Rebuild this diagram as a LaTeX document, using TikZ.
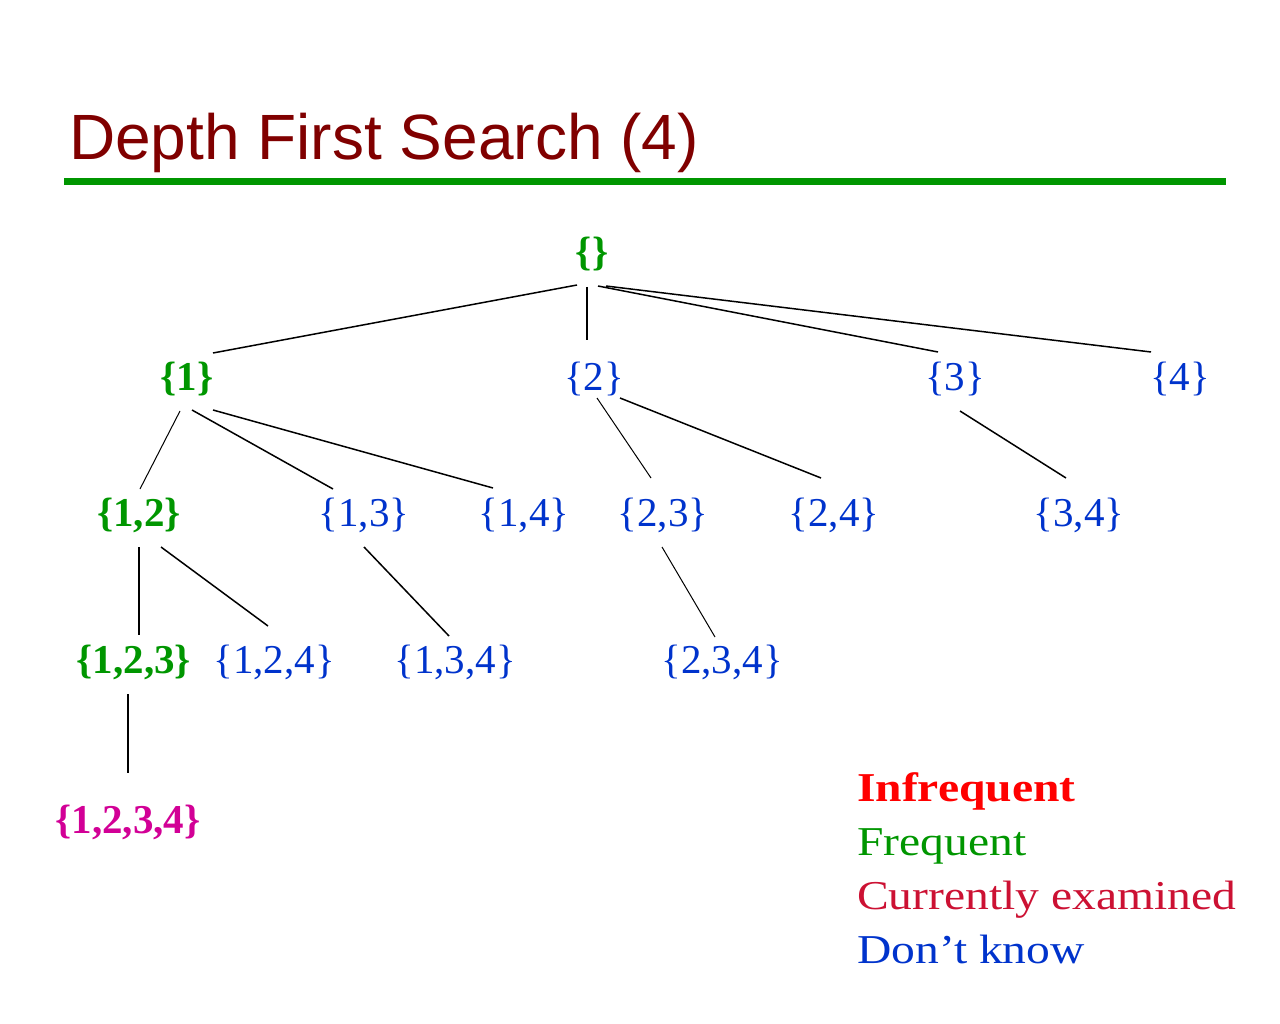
\documentclass[tikz,border=0pt]{standalone}
\usepackage{fontspec}
\setmainfont{Liberation Serif}
\newfontfamily\legendfont{Liberation Serif}[FakeStretch=1.16]
\newfontfamily\titlefont{Liberation Sans}
\usetikzlibrary{calc}
\definecolor{titlered}{RGB}{128,0,0}
\definecolor{rulegreen}{RGB}{0,150,0}
\definecolor{fgreen}{RGB}{0,150,0}
\definecolor{dkblue}{RGB}{0,51,204}
\definecolor{curmag}{RGB}{210,0,150}
\definecolor{infred}{RGB}{255,0,0}
\definecolor{examred}{RGB}{204,17,51}
\tikzset{
  lab/.style={inner sep=0pt, anchor=base, font=\fontsize{41}{48}\selectfont},
  fr/.style={lab, text=fgreen, font=\fontsize{41}{48}\selectfont\bfseries},
  dk/.style={lab, text=dkblue},
  cur/.style={lab, text=curmag, font=\fontsize{41}{48}\selectfont\bfseries},
  edge/.style={draw=black, line width=1.5pt},
  thinedge/.style={draw=black, line width=1pt},
  legend/.style={inner sep=0pt, anchor=base west, font=\legendfont\fontsize{41}{48}\selectfont}
}
\begin{document}
\begin{tikzpicture}[x=1pt,y=-1pt]
\useasboundingbox (0,0) rectangle (1280,1024);
% title
\node[inner sep=0pt, anchor=base west, text=titlered, font=\titlefont\fontsize{64}{77}\selectfont] (title) at (69,160) {Depth First Search (4)};
\coordinate (rl) at (64,182);
\coordinate (rr) at (1226,182);
\draw[rulegreen, line width=7pt] (rl) -- (rr);
% nodes
\node[fr] (n0) at (592,266) {\{\}};
\node[fr] (n1) at (187,390) {\{1\}};
\node[dk] (n2) at (594,390) {\{2\}};
\node[dk] (n3) at (955,390) {\{3\}};
\node[dk] (n4) at (1180,390) {\{4\}};
\node[fr] (n12) at (139,526) {\{1,2\}};
\node[dk] (n13) at (364,526) {\{1,3\}};
\node[dk] (n14) at (524,526) {\{1,4\}};
\node[dk] (n23) at (663,526) {\{2,3\}};
\node[dk] (n24) at (834,526) {\{2,4\}};
\node[dk] (n34) at (1079,526) {\{3,4\}};
\node[fr] (n123) at (134,673) {\{1,2,3\}};
\node[dk] (n124) at (274,673) {\{1,2,4\}};
\node[dk] (n134) at (455,673) {\{1,3,4\}};
\node[dk] (n234) at (722,673) {\{2,3,4\}};
\node[cur] (n1234) at (128,833) {\{1,2,3,4\}};
% connectors (end points just outside the labels)
\draw[edge] ($(n0.base)+(-15,19)$) -- ($(n1.base)+(26,-37)$);
\draw[edge] ($(n0.base)+(-5,21)$) -- ($(n2.base)+(-7,-50)$);
\draw[edge] ($(n0.base)+(6,20)$) -- ($(n3.base)+(-17,-38)$);
\draw[edge] ($(n0.base)+(14,20)$) -- ($(n4.base)+(-29,-38)$);
\draw[thinedge] ($(n1.base)+(-7,21)$) -- ($(n12.base)+(1,-37)$);
\draw[edge] ($(n1.base)+(5,20)$) -- ($(n13.base)+(-31,-37)$);
\draw[edge] ($(n1.base)+(26,20)$) -- ($(n14.base)+(-31,-38)$);
\draw[thinedge] ($(n2.base)+(3,8)$) -- ($(n23.base)+(-12,-48)$);
\draw[edge] ($(n2.base)+(26,8)$) -- ($(n24.base)+(-13,-48)$);
\draw[edge] ($(n3.base)+(5,21)$) -- ($(n34.base)+(-13,-48)$);
\draw[edge] ($(n12.base)+(0,21)$) -- ($(n123.base)+(5,-38)$);
\draw[edge] ($(n12.base)+(22,21)$) -- ($(n124.base)+(-6,-47)$);
\draw[edge] ($(n13.base)+(0,21)$) -- ($(n134.base)+(-6,-37)$);
\draw[thinedge] ($(n23.base)+(-1,21)$) -- ($(n234.base)+(-7,-36)$);
\draw[edge] ($(n123.base)+(-6,21)$) -- ($(n1234.base)+(0,-60)$);
% legend
\node[legend, text=infred, font=\legendfont\fontsize{41}{48}\selectfont\bfseries] (l1) at (857,801) {Infrequent};
\node[legend, text=fgreen] (l2) at (857,855) {Frequent};
\node[legend, text=examred] (l3) at (857,909) {Currently examined};
\node[legend, text=dkblue] (l4) at (857,963) {Don’t know};
\end{tikzpicture}
\end{document}
